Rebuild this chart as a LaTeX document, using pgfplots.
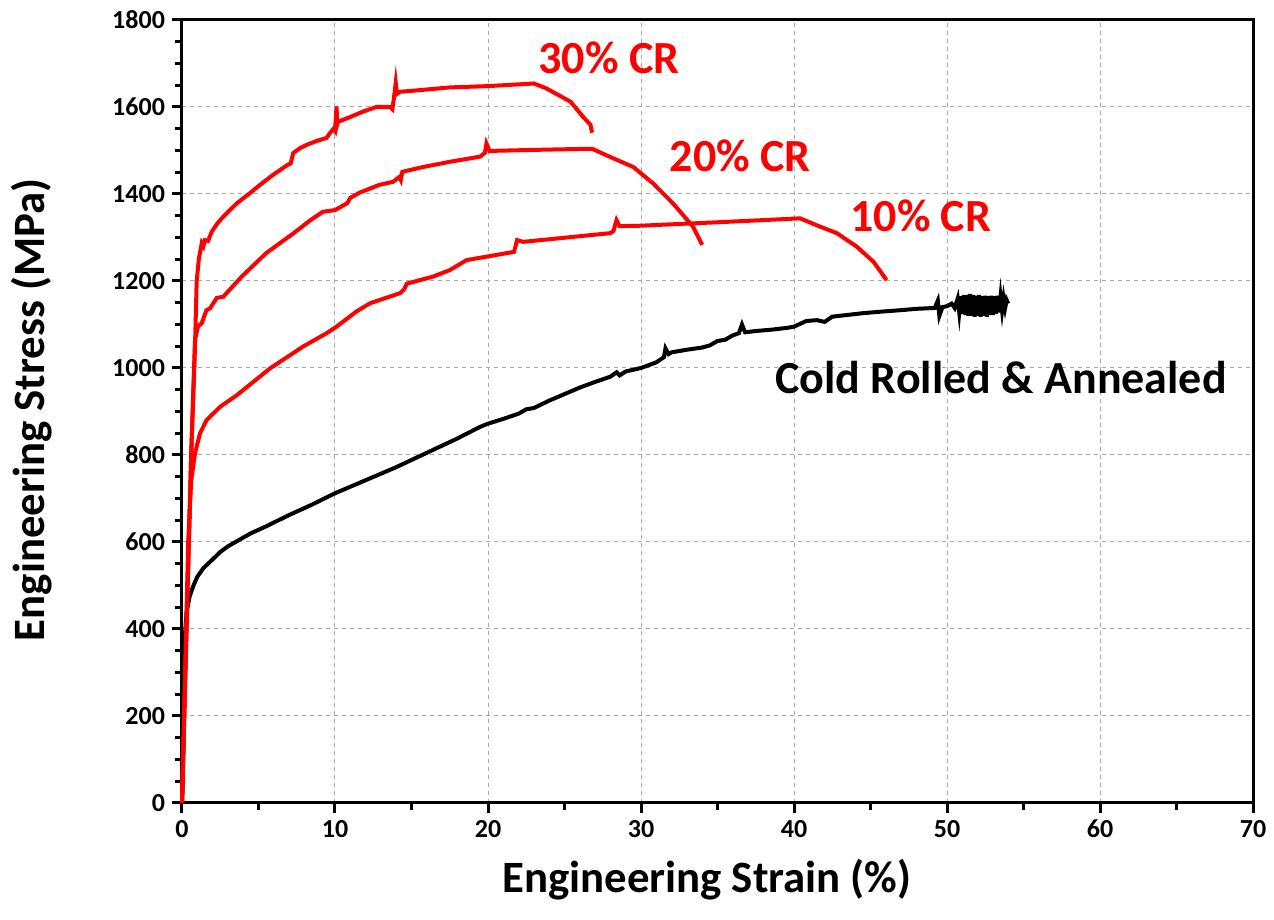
\documentclass[border=0pt]{standalone}
\usepackage{fontspec}
\setmainfont{Carlito}
\usepackage{pgfplots}
\pgfplotsset{compat=1.18}
\definecolor{crred}{RGB}{255,0,0}

\begin{document}
\begin{tikzpicture}
\useasboundingbox (-91pt,-58.5pt) rectangle (546pt,401.5pt);
\begin{axis}[
    at={(0,0)}, anchor=south west,
    scale only axis,
    width=535.5pt, height=391.5pt,
    xmin=0, xmax=70, ymin=0, ymax=1800,
    xtick={0,10,...,70}, ytick={0,200,...,1800},
    minor x tick num=1, minor y tick num=3,
    tick align=outside, tick pos=left,
    major tick length=5pt, minor tick length=3.3pt,
    every tick/.style={black, line width=1.5pt},
    axis line style={line width=1.5pt},
    grid=major,
    major grid style={gray!70, line width=0.5pt, dash pattern=on 2pt off 2pt},
    /pgf/number format/assume math mode=true,
    /pgf/number format/1000 sep={},
    ticklabel style={font=\bfseries\fontsize{13}{13}\selectfont},
    xlabel={Engineering Strain (\%)},
    ylabel={Engineering Stress (MPa)},
    label style={font=\bfseries\fontsize{22.4}{22.4}\selectfont},
    xlabel style={at={(axis description cs:0.49,-0.098)}, anchor=center},
    ylabel style={at={(axis description cs:-0.14,0.502)}, anchor=center},
    clip=false,
]
% Cold rolled and annealed
\addplot[black, line width=2pt] coordinates {
(0,0)(0.05,50)(0.1,150)(0.15,300)(0.2,390)(0.3,440)(0.5,475)(0.75,500)(1.0,520)
(1.4,540)(2.0,560)(2.5,577)(3,590)(3.6,602)(4.5,620)(5.5,636)(7,662)(8.5,686)
(10,712)(12,742)(14,772)(16,805)(18,838)(19.5,865)(20,872)(21,883)(22,895)
(22.5,905)(23,908)(24,925)(25,940)(26,955)(27,968)(28,980)(28.4,990)(28.6,983)
(29,992)(30,1000)(31,1013)(31.5,1025)(31.6,1045)(31.8,1032)(32,1036)(33,1042)
(34,1047)(34.5,1052)(35,1062)(35.5,1065)(36,1075)(36.4,1080)(36.6,1100)(36.8,1082)
(37.5,1085)(38.5,1088)(39.5,1092)(40,1095)(40.8,1108)(41.5,1110)(42,1106)
(42.5,1118)(43.5,1122)(44.5,1126)(45.5,1129)(47,1133)(48,1136)(49.2,1138)
(49.4,1155)(49.5,1120)(49.7,1140)(50,1142)(50.3,1148)(50.5,1138)
(50.7,1160)(50.8,1128)(50.9,1165)(51.0,1124)(51.1,1168)(51.2,1122)(51.3,1168)
(51.4,1120)(51.5,1170)(51.6,1120)(51.7,1168)(51.8,1118)(51.9,1166)(52.0,1120)
(52.1,1168)(52.2,1118)(52.3,1165)(52.4,1120)(52.5,1166)(52.6,1118)(52.7,1165)
(52.8,1122)(52.9,1166)(53.0,1122)(53.1,1165)(53.2,1125)(53.3,1166)(53.4,1128)
(53.5,1164)(53.6,1132)(53.7,1160)(53.8,1138)(53.9,1156)(54.0,1148)
};
% 10% CR
\addplot[crred, line width=2pt] coordinates {
(0,0)(0.2,300)(0.41,605)(0.6,740)(0.85,804)(1.18,850)(1.6,880)(2.5,911)(3.6,938)
(5.75,999)(7.9,1049)(9.45,1080)(10.1,1095)(11.4,1130)(12.3,1149)(14.25,1172)
(14.5,1180)(14.7,1194)(16.4,1210)(17.5,1225)(18.6,1248)(21.7,1267)(21.8,1280)
(21.9,1294)(22.3,1290)(28,1310)(28.2,1315)(28.4,1340)(28.6,1326)(29.9,1327)
(35,1335)(40.4,1344)(41.7,1325)(42.8,1310)(44.1,1279)(45.2,1244)(46.05,1202)
};
% 20% CR
\addplot[crred, line width=2pt] coordinates {
(0,0)(0.3,400)(0.6,800)(0.85,1064)(1.05,1096)(1.29,1103)(1.6,1133)(1.83,1137)
(2.27,1161)(2.7,1164)(3.9,1210)(5.5,1264)(7.3,1310)(8.4,1340)(9.2,1359)(10,1363)
(10.8,1379)(11,1391)(11.6,1403)(12.9,1421)(13.8,1428)(14.2,1439)(14.3,1432)
(14.4,1451)(15.75,1462)(17.5,1474)(19.5,1486)(19.8,1495)(19.9,1516)(20.1,1499)
(23.8,1502)(26.8,1504)(28,1485)(29.5,1462)(30.8,1424)(32.1,1378)(33.4,1325)(34.0,1283)
};
% 30% CR
\addplot[crred, line width=2pt] coordinates {
(0,0)(0.3,400)(0.6,800)(0.85,1050)(0.96,1200)(1.1,1250)(1.29,1287)(1.4,1280)
(1.5,1294)(1.7,1292)(1.94,1313)(2.3,1332)(2.7,1348)(3.1,1362)(3.6,1379)(4.44,1402)
(5.1,1421)(5.95,1444)(6.9,1467)(7.1,1470)(7.27,1494)(7.7,1505)(8.15,1513)(8.8,1522)
(9.45,1529)(9.67,1540)(9.9,1550)(10.0,1545)(10.1,1601)(10.15,1560)(10.2,1566)
(11,1577)(11.8,1589)(12.7,1600)(13.6,1600)(13.75,1595)(13.85,1620)(13.97,1656)
(14.05,1630)(14.25,1635)(15.3,1638)(17.5,1645)(20,1648)(23,1654)(23.8,1643)
(25.4,1612)(26.2,1578)(26.7,1559)(26.8,1541)
};
\node[anchor=base west, crred, font=\bfseries\fontsize{23}{23}\selectfont, inner sep=0pt] at (axis cs:23.27,1677) {30\% CR};
\node[anchor=base west, crred, font=\bfseries\fontsize{23}{23}\selectfont, inner sep=0pt] at (axis cs:31.86,1451) {20\% CR};
\node[anchor=base west, crred, font=\bfseries\fontsize{23}{23}\selectfont, inner sep=0pt] at (axis cs:43.66,1313) {10\% CR};
\node[anchor=base west, black, font=\bfseries\fontsize{23}{23}\selectfont, inner sep=0pt] at (axis cs:38.76,942) {Cold Rolled \& Annealed};
\end{axis}
\end{tikzpicture}
\end{document}
